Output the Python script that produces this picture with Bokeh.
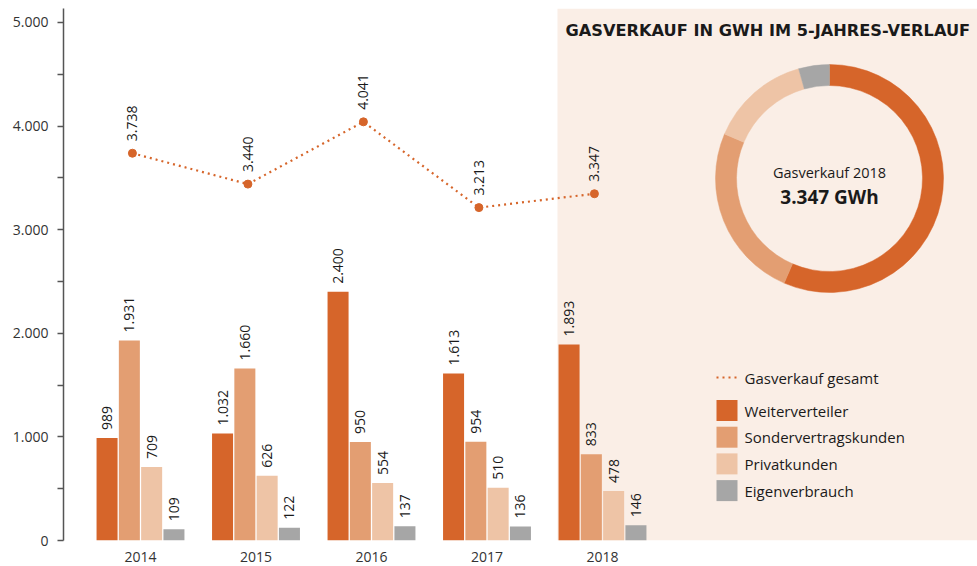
import math
from bokeh.plotting import figure
from bokeh.models import Range1d, FixedTicker, ColumnDataSource, BoxAnnotation
from bokeh.transform import dodge
from bokeh.core.properties import value
from bokeh.embed import file_html
from bokeh.resources import INLINE

# ---------------- data ----------------
years = ["2014", "2015", "2016", "2017", "2018"]
weiterverteiler = [989, 1032, 2400, 1613, 1893]
sondervertragskunden = [1931, 1660, 950, 954, 833]
privatkunden = [709, 626, 554, 510, 478]
eigenverbrauch = [109, 122, 137, 136, 146]
gesamt = [3738, 3440, 4041, 3213, 3347]
series_names = ["Weiterverteiler", "Sondervertragskunden", "Privatkunden", "Eigenverbrauch"]
line_name = "Gasverkauf gesamt"
y_ticks = [0, 1000, 2000, 3000, 4000, 5000]
y_tick_labels = ["0", "1.000", "2.000", "3.000", "4.000", "5.000"]
title_text = "GASVERKAUF IN GWH IM 5-JAHRES-VERLAUF"
donut_title = "Gasverkauf 2018"
donut_value = "3.347 GWh"

# ---------------- style ----------------
colors = ["#D6652A", "#E39E72", "#EEC4A6", "#A6A6A6"]
line_color = "#D6652A"
panel_bg = "#FAEEE6"
text_color = "#1a1a1a"
axis_text = "#333333"
FONT = "Open Sans"

W, H = 977, 566
FRAME_L, FRAME_R = 63, 977      # page px
FRAME_T, FRAME_B = 8, 540
GROUP0, STEP = 140, 115.5       # page px of first group centre, group spacing
BAR_W, BAR_STEP = 0.182, 0.193

def fmt(v):
    return f"{v:,}".replace(",", ".")

x_start = (FRAME_L - GROUP0) / STEP
x_end = (FRAME_R - GROUP0) / STEP

p = figure(width=W, height=H, output_backend="svg", toolbar_location=None,
           x_range=Range1d(x_start, x_end), y_range=Range1d(0, 5135),
           min_border_left=FRAME_L, min_border_right=W - FRAME_R, min_border_top=FRAME_T,
           min_border_bottom=H - FRAME_B)
p.outline_line_color = None
p.xgrid.visible = False
p.ygrid.visible = False
p.background_fill_color = "white"
p.border_fill_color = "white"

# page-pixel coordinate system for annotations
p.extra_x_ranges = {"px": Range1d(FRAME_L, FRAME_R)}
p.extra_y_ranges = {"px": Range1d(0, FRAME_B - FRAME_T)}
def py(page_y):
    return FRAME_B - page_y

# beige panel
panel_left = (557 - GROUP0) / STEP
p.add_layout(BoxAnnotation(left=panel_left, fill_color=panel_bg, fill_alpha=1.0,
                           line_color=None, level="underlay"))

# axes
yax = p.yaxis[0]
yax.ticker = FixedTicker(ticks=y_ticks, minor_ticks=[t + 500 for t in y_ticks[:-1]])
yax.major_label_overrides = {t: l for t, l in zip(y_ticks, y_tick_labels)}
yax.axis_line_color = "#555555"
yax.axis_line_width = 1.5
yax.major_tick_line_color = "#555555"
yax.minor_tick_line_color = "#555555"
yax.major_tick_line_width = 1.5
yax.minor_tick_line_width = 1.5
yax.major_tick_in = 0
yax.major_tick_out = 6
yax.minor_tick_in = 0
yax.minor_tick_out = 6
yax.major_label_text_font = FONT
yax.major_label_text_font_size = "14px"
yax.major_label_text_color = axis_text
yax.major_label_standoff = 9

xax = p.xaxis[0]
xax.ticker = FixedTicker(ticks=list(range(len(years))))
xax.major_label_overrides = {i: y for i, y in enumerate(years)}
xax.axis_line_color = None
xax.major_tick_line_color = None
xax.minor_tick_line_color = None
xax.major_label_text_font = FONT
xax.major_label_text_font_size = "14px"
xax.major_label_text_color = axis_text
xax.major_label_standoff = 5

# bars
series = [weiterverteiler, sondervertragskunden, privatkunden, eigenverbrauch]
data = dict(x=list(range(len(years))), gesamt=gesamt, gesamt_lbl=[fmt(v) for v in gesamt])
for j, s in enumerate(series):
    data[f"s{j}"] = s
    data[f"l{j}"] = [fmt(v) for v in s]
src = ColumnDataSource(data)

for j, name in enumerate(series_names):
    off = (j - 1.5) * BAR_STEP
    p.vbar(x=dodge("x", off, range=p.x_range), top=f"s{j}", width=BAR_W, bottom=0,
           source=src, fill_color=colors[j], line_color=None)
    p.text(x=dodge("x", off, range=p.x_range), y=f"s{j}", text=f"l{j}", source=src,
           angle=math.pi / 2, text_align="left", text_baseline="middle", y_offset=-8,
           text_font=value(FONT), text_font_size="14px", text_color=text_color)

# total line
loff = -0.07
p.line(x=dodge("x", loff, range=p.x_range), y="gesamt", source=src, line_color=line_color,
       line_width=2.2, line_dash="2 4")
p.scatter(x=dodge("x", loff, range=p.x_range), y="gesamt", source=src, size=8,
          fill_color=line_color, line_color=line_color)
p.text(x=dodge("x", loff, range=p.x_range), y="gesamt", text="gesamt_lbl", source=src,
       angle=math.pi / 2, text_align="left", text_baseline="middle", y_offset=-12,
       text_font=value(FONT), text_font_size="14px", text_color=text_color)

# title
p.text(x=[565], y=[py(30)], text=[title_text], x_range_name="px", y_range_name="px",
       text_align="left", text_baseline="middle", text_font=value("DejaVu Sans"),
       text_font_size="16.2px", text_font_style="bold", text_color=text_color)

# donut (2018 split)
vals_2018 = [s[-1] for s in series]
total = sum(vals_2018)
starts, ends = [], []
acc = 0
for v in vals_2018:
    starts.append(math.pi / 2 - acc / total * 2 * math.pi)
    acc += v
    ends.append(math.pi / 2 - acc / total * 2 * math.pi)
cx, cy = 829, py(178)
p.annular_wedge(x=[cx] * 4, y=[cy] * 4, inner_radius=93, outer_radius=114,
                inner_radius_units="screen", outer_radius_units="screen",
                start_angle=starts, end_angle=ends, direction="clock",
                fill_color=colors, line_color=colors, line_width=0.5,
                x_range_name="px", y_range_name="px")
p.text(x=[cx], y=[py(172)], text=[donut_title], x_range_name="px", y_range_name="px",
       text_align="center", text_baseline="middle", text_font=value(FONT),
       text_font_size="14.5px", text_color=text_color)
p.text(x=[cx], y=[py(196)], text=[donut_value], x_range_name="px", y_range_name="px",
       text_align="center", text_baseline="middle", text_font=value(FONT),
       text_font_size="19px", text_font_style="bold", text_color=text_color)

# legend (custom)
LX0, LX1, LTX = 716, 737, 744
p.line(x=[LX0, LX1], y=[py(377), py(377)], x_range_name="px", y_range_name="px",
       line_color=line_color, line_width=2.2, line_dash="2 4")
p.text(x=[LTX], y=[py(377)], text=[line_name], x_range_name="px", y_range_name="px",
       text_align="left", text_baseline="middle", text_font=value(FONT),
       text_font_size="15px", text_color=text_color)
leg_y = [py(410 + 26.7 * j) for j in range(len(series_names))]
p.rect(x=[(LX0 + LX1) / 2] * len(series_names), y=leg_y, width=21, height=21,
       width_units="screen", height_units="screen", fill_color=colors, line_color=None,
       x_range_name="px", y_range_name="px")
p.text(x=[LTX] * len(series_names), y=leg_y, text=series_names, x_range_name="px",
       y_range_name="px", text_align="left", text_baseline="middle",
       text_font=value(FONT), text_font_size="15px", text_color=text_color)

open("out.html", "w").write(file_html(p, INLINE))
